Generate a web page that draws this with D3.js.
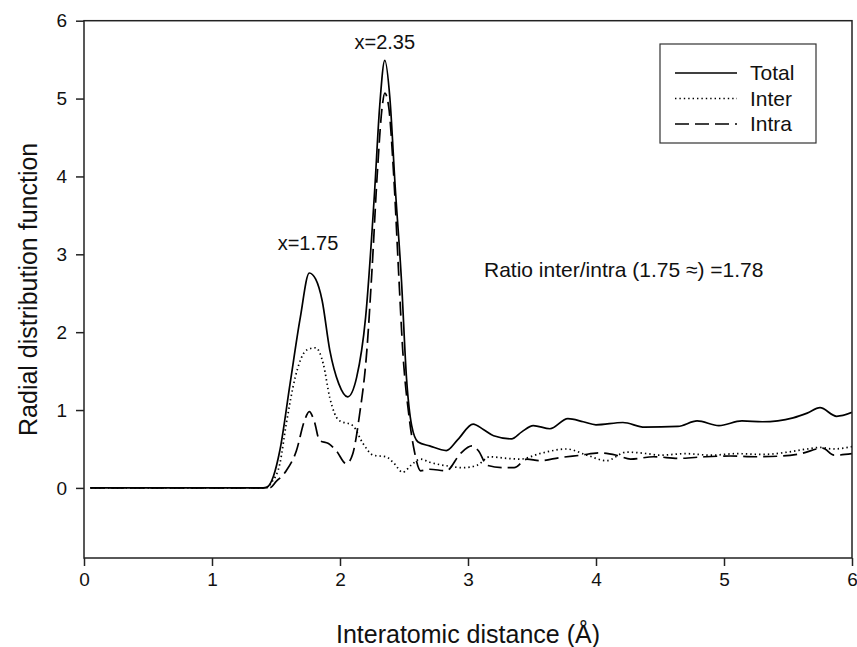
<!DOCTYPE html>
<html>
<head>
<meta charset="utf-8">
<script src="https://cdn.jsdelivr.net/npm/d3@7"></script>
<style>
  body { margin: 0; background: #fff; }
  svg { font-family: "Liberation Sans", Arial, sans-serif; }
</style>
</head>
<body>
<div id="wrapper"></div>
<script>
// values
const totalX = [0.05, 1.40, 1.43, 1.48, 1.53, 1.61, 1.69, 1.76, 1.81, 1.86, 1.92, 1.99, 2.06, 2.13, 2.20, 2.27, 2.31, 2.35, 2.39, 2.43, 2.48, 2.52, 2.56, 2.61, 2.70, 2.83, 2.92, 3.04, 3.12, 3.20, 3.34, 3.42, 3.51, 3.64, 3.78, 3.90, 4.00, 4.21, 4.38, 4.64, 4.79, 4.96, 5.14, 5.30, 5.54, 5.65, 5.75, 5.88, 6.00]
const totalY = [0, 0, 0.01, 0.15, 0.48, 1.34, 2.19, 2.76, 2.68, 2.41, 1.77, 1.34, 1.17, 1.42, 2.19, 3.80, 4.90, 5.49, 5.00, 3.90, 2.67, 1.40, 0.80, 0.59, 0.54, 0.48, 0.62, 0.82, 0.75, 0.67, 0.63, 0.72, 0.80, 0.76, 0.89, 0.85, 0.81, 0.84, 0.78, 0.79, 0.86, 0.80, 0.86, 0.85, 0.90, 0.96, 1.03, 0.92, 0.97]

const interX = [0.05, 1.42, 1.47, 1.53, 1.58, 1.65, 1.74, 1.81, 1.87, 1.92, 1.99, 2.10, 2.18, 2.26, 2.36, 2.42, 2.49, 2.56, 2.63, 2.70, 2.85, 2.96, 3.07, 3.17, 3.30, 3.41, 3.56, 3.77, 3.93, 4.08, 4.24, 4.40, 4.50, 4.70, 4.90, 5.10, 5.30, 5.50, 5.65, 5.75, 5.85, 6.00]
const interY = [0, 0, 0.08, 0.31, 0.82, 1.42, 1.77, 1.80, 1.59, 1.16, 0.87, 0.80, 0.57, 0.42, 0.40, 0.32, 0.20, 0.30, 0.37, 0.33, 0.28, 0.26, 0.29, 0.40, 0.38, 0.37, 0.44, 0.50, 0.42, 0.35, 0.46, 0.44, 0.42, 0.44, 0.42, 0.44, 0.43, 0.46, 0.50, 0.52, 0.50, 0.53]

const intraX = [0.05, 1.45, 1.50, 1.58, 1.66, 1.72, 1.76, 1.80, 1.84, 1.91, 1.97, 2.05, 2.10, 2.15, 2.21, 2.25, 2.29, 2.33, 2.35, 2.38, 2.42, 2.46, 2.49, 2.54, 2.58, 2.63, 2.70, 2.83, 2.94, 3.03, 3.08, 3.15, 3.28, 3.36, 3.46, 3.56, 3.72, 3.88, 4.03, 4.16, 4.27, 4.45, 4.65, 4.85, 5.05, 5.25, 5.45, 5.60, 5.77, 5.86, 6.00]
const intraY = [0, 0, 0.08, 0.22, 0.48, 0.85, 0.98, 0.85, 0.61, 0.57, 0.48, 0.31, 0.44, 0.91, 1.77, 2.80, 4.00, 4.90, 5.07, 4.90, 4.00, 2.70, 1.77, 0.91, 0.48, 0.22, 0.24, 0.22, 0.44, 0.54, 0.48, 0.29, 0.26, 0.26, 0.37, 0.35, 0.39, 0.42, 0.45, 0.42, 0.37, 0.40, 0.38, 0.40, 0.41, 0.40, 0.41, 0.44, 0.51, 0.42, 0.44]

const xTicks = [0, 1, 2, 3, 4, 5, 6]
const yTicks = [0, 1, 2, 3, 4, 5, 6]

const series = [
  { name: "Total", xs: totalX, ys: totalY, dash: null },
  { name: "Inter", xs: interX, ys: interY, dash: "1.4,3" },
  { name: "Intra", xs: intraX, ys: intraY, dash: "14,6" },
]

const dimensions = {
  width: 857,
  height: 647,
  margin: { top: 20.7, right: 5, bottom: 89, left: 84 },
}
dimensions.boundedWidth = dimensions.width - dimensions.margin.left - dimensions.margin.right
dimensions.boundedHeight = dimensions.height - dimensions.margin.top - dimensions.margin.bottom

const wrapper = d3.select("#wrapper")
  .append("svg")
    .attr("width", dimensions.width)
    .attr("height", dimensions.height)

const bounds = wrapper.append("g")
  .attr("transform", `translate(${dimensions.margin.left},${dimensions.margin.top})`)

const xScale = d3.scaleLinear()
  .domain([0, 6])
  .range([0, dimensions.boundedWidth])

const yScale = d3.scaleLinear()
  .domain([-0.9, 6])
  .range([dimensions.boundedHeight, 0])

bounds.append("clipPath").attr("id", "clip")
  .append("rect")
    .attr("width", dimensions.boundedWidth)
    .attr("height", dimensions.boundedHeight)

const lineGenerator = d3.line()
  .x(d => xScale(d[0]))
  .y(d => yScale(d[1]))
  .curve(d3.curveMonotoneX)

bounds.append("g").attr("clip-path", "url(#clip)")
  .selectAll("path")
  .data(series)
  .join("path")
    .attr("d", s => lineGenerator(s.xs.map((x, i) => [x, s.ys[i]])))
    .attr("fill", "none")
    .attr("stroke", "#000")
    .attr("stroke-width", 1.7)
    .attr("stroke-dasharray", s => s.dash)

// frame
bounds.append("rect")
  .attr("width", dimensions.boundedWidth)
  .attr("height", dimensions.boundedHeight)
  .attr("fill", "none")
  .attr("stroke", "#222")
  .attr("stroke-width", 1.5)

const xAxisGenerator = d3.axisBottom(xScale)
  .tickValues(xTicks)
  .tickFormat(d3.format("d"))
  .tickSizeInner(8)
  .tickSizeOuter(0)
  .tickPadding(7)

const xAxis = bounds.append("g")
  .attr("transform", `translate(0,${dimensions.boundedHeight})`)
  .call(xAxisGenerator)
xAxis.select(".domain").remove()
xAxis.selectAll("line").attr("stroke", "#222").attr("stroke-width", 1.5)
xAxis.selectAll("text").attr("fill", "#111").style("font-size", "19px")

const yAxisGenerator = d3.axisLeft(yScale)
  .tickValues(yTicks)
  .tickFormat(d3.format("d"))
  .tickSizeInner(8)
  .tickSizeOuter(0)
  .tickPadding(9)

const yAxis = bounds.append("g")
  .call(yAxisGenerator)
yAxis.select(".domain").remove()
yAxis.selectAll("line").attr("stroke", "#222").attr("stroke-width", 1.5)
yAxis.selectAll("text").attr("fill", "#111").style("font-size", "19px")

wrapper.append("text")
  .attr("x", dimensions.margin.left + dimensions.boundedWidth / 2)
  .attr("y", 643)
  .attr("text-anchor", "middle")
  .style("font-size", "25px")
  .attr("fill", "#111")
  .text("Interatomic distance (Å)")

wrapper.append("text")
  .attr("transform", `translate(37,${dimensions.margin.top + yScale(2.55)}) rotate(-90)`)
  .attr("text-anchor", "middle")
  .style("font-size", "25px")
  .attr("fill", "#111")
  .text("Radial distribution function")

// annotations
const notes = [
  { x: 2.35, y: 5.64, text: "x=2.35", anchor: "middle", size: 20 },
  { x: 1.75, y: 3.06, text: "x=1.75", anchor: "middle", size: 20 },
  { x: 3.125, y: 2.71, text: "Ratio inter/intra (1.75 \u2248) =1.78", anchor: "start", size: 21 },
]
bounds.selectAll(".note")
  .data(notes)
  .join("text")
    .attr("class", "note")
    .attr("x", d => xScale(d.x))
    .attr("y", d => yScale(d.y))
    .attr("text-anchor", d => d.anchor)
    .style("font-size", d => d.size + "px")
    .attr("fill", "#111")
    .text(d => d.text)

// legend
const legend = wrapper.append("g")
  .attr("transform", "translate(660,44)")

legend.append("rect")
  .attr("width", 156)
  .attr("height", 99)
  .attr("fill", "#fff")
  .attr("stroke", "#333")
  .attr("stroke-width", 1.2)

const legendItems = legend.selectAll(".item")
  .data(series)
  .join("g")
    .attr("class", "item")
    .attr("transform", (d, i) => `translate(0,${29 + i * 25.5})`)

legendItems.append("line")
  .attr("x1", 15)
  .attr("x2", 77)
  .attr("stroke", "#000")
  .attr("stroke-width", 1.5)
  .attr("stroke-dasharray", d => d.dash)

legendItems.append("text")
  .attr("x", 90)
  .attr("dy", "0.35em")
  .style("font-size", "21px")
  .attr("fill", "#111")
  .text(d => d.name)
</script>
</body>
</html>
